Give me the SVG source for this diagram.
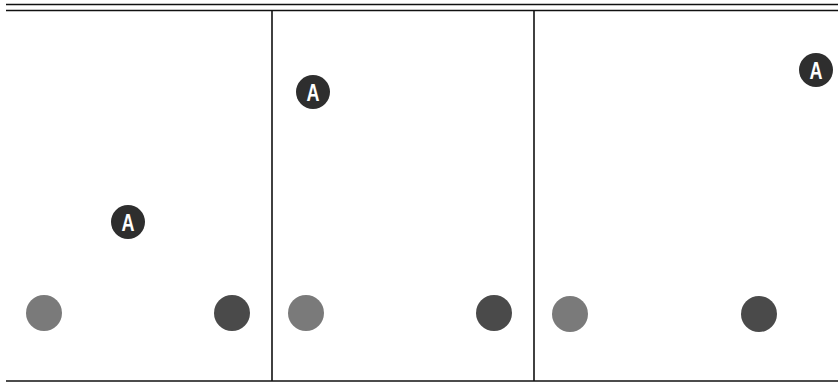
<svg xmlns="http://www.w3.org/2000/svg" width="838" height="387" viewBox="0 0 838 387">
<style>
.ln{stroke:#111;stroke-width:1.6;fill:none}
.lt{fill:#7a7a7a}
.dk{fill:#4a4a4a}
.ab{fill:#2e2e2e}
.at{fill:#fff;font-family:"Liberation Sans",Arial,sans-serif;font-weight:bold;font-size:24px;text-anchor:middle}
</style>
<rect width="838" height="387" fill="#fff"/>
<g id="frame">
<line class="ln" x1="6" y1="4.5" x2="838" y2="4.5"/>
<line class="ln" x1="6" y1="10.5" x2="838" y2="10.5"/>
<line class="ln" x1="6" y1="381" x2="838" y2="381"/>
<line class="ln" x1="272" y1="11" x2="272" y2="381"/>
<line class="ln" x1="534" y1="11" x2="534" y2="381"/>
</g>
<g id="panel1">
<circle class="lt" cx="44" cy="313" r="18"/>
<circle class="dk" cx="232" cy="313" r="18"/>
<g id="a1"><circle class="ab" cx="128" cy="222" r="17"/><text class="at" transform="translate(128 230.5) scale(0.75 1)">A</text></g>
</g>
<g id="panel2">
<circle class="lt" cx="306" cy="313" r="18"/>
<circle class="dk" cx="494" cy="313" r="18"/>
<g id="a2"><circle class="ab" cx="313" cy="92" r="17"/><text class="at" transform="translate(313 100.5) scale(0.75 1)">A</text></g>
</g>
<g id="panel3">
<circle class="lt" cx="570" cy="314" r="18"/>
<circle class="dk" cx="759" cy="314" r="18"/>
<g id="a3"><circle class="ab" cx="816" cy="70" r="17"/><text class="at" transform="translate(816 78.5) scale(0.75 1)">A</text></g>
</g>
</svg>
